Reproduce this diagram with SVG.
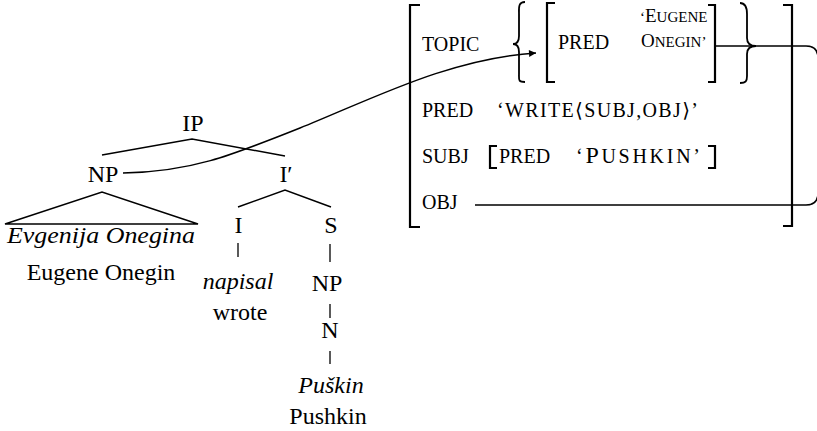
<svg xmlns="http://www.w3.org/2000/svg" width="817" height="431" viewBox="0 0 817 431">
<defs>
<style>
text{font-family:"Liberation Serif","Times New Roman",Tinos,Times,"DejaVu Serif",serif;fill:#000}
.t{font-size:24px}
.it{font-style:italic}
.sc{font-size:20px}
.lc{font-size:24px}
.sci{font-size:15px}
.lci{font-size:19px}
.ln{stroke:#000;stroke-width:1.5;fill:none}
.tk{stroke:#000;stroke-width:1.3;fill:none}
.br{stroke:#000;stroke-width:2.2;fill:none}
.bc{stroke:#000;stroke-width:1.8;fill:none}
</style>
<marker id="ah" viewBox="0 0 10 10" refX="10" refY="5" markerWidth="9" markerHeight="7" markerUnits="userSpaceOnUse" orient="auto">
<path d="M0,0 L10,5 L0,10 z" fill="#000"/>
</marker>
</defs>
<rect width="817" height="431" fill="#fff"/>

<g id="tree-lines">
<path class="ln" d="M102,155 L192,139 L285,156"/>
<path class="ln" d="M5,224 L102,192 L198,224 Z"/>
<path class="ln" d="M238,207 L285,190 L331,207"/>
<path class="tk" d="M238,243 V257"/>
<path class="tk" d="M330,244 V262"/>
<path class="tk" d="M330,304 V318"/>
<path class="tk" d="M330,351 V364"/>
</g>

<g id="node-IP"><text class="t" x="193" y="131" text-anchor="middle">IP</text></g>
<g id="node-NP"><text class="t" x="103" y="182" text-anchor="middle">NP</text></g>
<g id="node-Ibar"><text class="t" x="286" y="182" text-anchor="middle">I′</text></g>
<g id="node-NP-words">
<text class="t it" x="7" y="243" textLength="188" lengthAdjust="spacingAndGlyphs">Evgenija Onegina</text>
<text class="t" x="101" y="280" text-anchor="middle">Eugene Onegin</text>
</g>
<g id="node-I"><text class="t" x="238.5" y="233" text-anchor="middle">I</text></g>
<g id="node-S"><text class="t" x="331" y="233" text-anchor="middle">S</text></g>
<g id="node-napisal">
<text class="t it" x="238" y="289" text-anchor="middle">napisal</text>
<text class="t" x="240" y="320" text-anchor="middle">wrote</text>
</g>
<g id="node-NP2"><text class="t" x="327" y="291" text-anchor="middle">NP</text></g>
<g id="node-N"><text class="t" x="330" y="338" text-anchor="middle">N</text></g>
<g id="node-Puskin">
<text class="t it" x="331" y="393" text-anchor="middle">Puškin</text>
<text class="t" x="328" y="424" text-anchor="middle">Pushkin</text>
</g>

<g id="fstructure">
<path class="br" d="M420,5 H410 V227 H420"/>
<path class="br" d="M783,5 H792 V226 H783"/>
<text class="sc" x="422" y="51">TOPIC</text>
<path class="bc" d="M525,2 C518,2 519,8 519,14 V36 C519,42 517,44 513,44 C517,44 519,46 519,52 V74 C519,80 518,82 525,82"/>
<path class="br" d="M555,3 H547 V82 H555"/>
<text class="sc" x="558" y="49">PRED</text>
<text class="sci" x="640" y="22">‘<tspan class="lci">E</tspan>UGENE</text>
<text class="sci" x="641" y="47"><tspan class="lci">O</tspan>NEGIN’</text>
<path class="br" d="M708,5 H715 V82 H708"/>
<path class="bc" d="M740,3 C746,3 747,8 747,14 V38 C747,43 750,46 756,46 C750,46 747,49 747,54 V76 C747,81 746,83 740,83"/>
<text class="sc" x="422" y="117">PRED</text>
<text class="sc" x="497" y="117" textLength="201" lengthAdjust="spacing">‘WRITE⟨SUBJ,OBJ⟩’</text>
<text class="sc" x="422" y="163">SUBJ</text>
<path class="br" d="M497,146 H490 V168 H497"/>
<text class="sc" x="499" y="163">PRED</text>
<text class="sc" x="576" y="163" textLength="124" lengthAdjust="spacing">‘<tspan class="lc">P</tspan>USHKIN’</text>
<path class="br" d="M708,146 H715 V168 H708"/>
<text class="sc" x="422" y="209">OBJ</text>
</g>

<g id="connectors">
<path class="ln" d="M123,173 C190,172 230,156 300,128 S450,58 536,53" marker-end="url(#ah)"/>
<path class="ln" d="M475,205 H806 Q818,205 818,193 V58 Q818,46 806,46 H715"/>
</g>
</svg>
